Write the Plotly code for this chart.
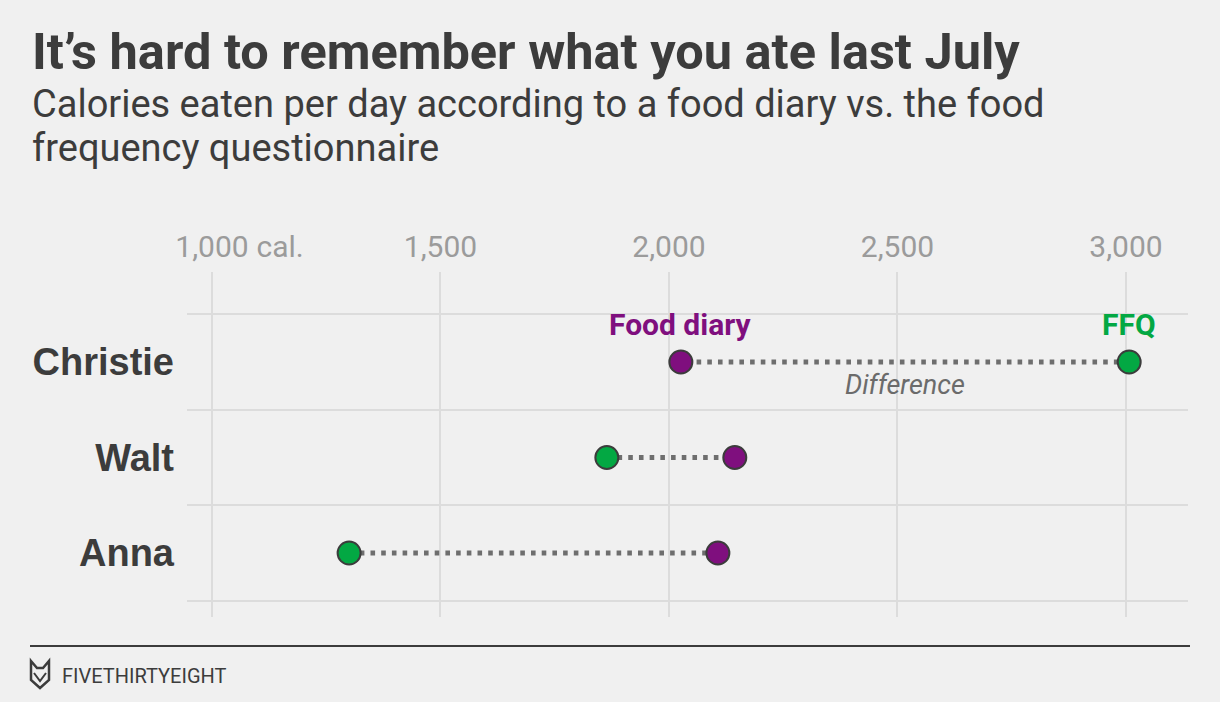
import plotly.graph_objects as go

# ---- data ----
names = ["Christie", "Walt", "Anna"]
food_diary = [2026, 2144, 2107]
ffq = [3007, 1864, 1300]
tick_vals = [1000, 1500, 2000, 2500, 3000]
tick_text = ["1,000", "1,500", "2,000", "2,500", "3,000"]

PURPLE = "#7f0f7e"
GREEN = "#03a843"
DARK = "#3c3c3c"
BG = "#f0f0f0"
GRID = "#dcdcdc"

W, H = 1220, 702
L, R, T, B = 187, 1188, 272, 617


def px(X):
    return (X - L) / (R - L)


def py(Y):
    return (B - Y) / (B - T)


rows = list(range(len(names)))

fig = go.Figure()

lx, ly = [], []
for i in rows:
    lx += [ffq[i], food_diary[i], None]
    ly += [i, i, None]
fig.add_trace(go.Scatter(
    x=lx, y=ly, mode="lines",
    line=dict(color="#6e6e6e", width=5, dash="4.6px,6.1px"),
    hoverinfo="skip", showlegend=False))

fig.add_trace(go.Scatter(
    x=food_diary, y=rows, mode="markers", name="Food diary",
    marker=dict(size=23, color=PURPLE, line=dict(color=DARK, width=2)),
    showlegend=False))
fig.add_trace(go.Scatter(
    x=ffq, y=rows, mode="markers", name="FFQ",
    marker=dict(size=23, color=GREEN, line=dict(color=DARK, width=2)),
    showlegend=False))

annotations = [
    dict(text="It’s hard to remember what you ate last July",
         xref="paper", yref="paper", x=px(30), y=py(51),
         xanchor="left", yanchor="middle", showarrow=False,
         font=dict(family="Roboto", size=50.5, color=DARK, weight="bold")),
    dict(text="Calories eaten per day according to a food diary vs. the food",
         xref="paper", yref="paper", x=px(30), y=py(104),
         xanchor="left", yanchor="middle", showarrow=False,
         font=dict(family="Roboto", size=38, color=DARK)),
    dict(text="frequency questionnaire",
         xref="paper", yref="paper", x=px(30), y=py(148),
         xanchor="left", yanchor="middle", showarrow=False,
         font=dict(family="Roboto", size=38, color=DARK)),
    dict(text=" cal.", xref="x", yref="paper", x=tick_vals[0], y=1,
         xanchor="left", yanchor="middle", xshift=35, yshift=26,
         showarrow=False,
         font=dict(family="Roboto", size=30, color="#9b9b9b")),
    dict(text="Food diary", xref="x", yref="y", x=food_diary[0], y=rows[0],
         xanchor="center", yanchor="middle", yshift=37, showarrow=False,
         font=dict(family="Roboto", size=30, color=PURPLE, weight="bold")),
    dict(text="FFQ", xref="x", yref="y", x=ffq[0], y=rows[0],
         xanchor="center", yanchor="middle", yshift=37, showarrow=False,
         font=dict(family="Roboto", size=30, color=GREEN, weight="bold")),
    dict(text="Difference", xref="x", yref="y",
         x=(food_diary[0] + ffq[0]) / 2, y=rows[0],
         xanchor="center", yanchor="middle", yshift=-23, showarrow=False,
         font=dict(family="Roboto", size=27, color="#6b6b6b", style="italic")),
    dict(text="FIVETHIRTYEIGHT", xref="paper", yref="paper",
         x=px(60), y=py(676), xanchor="left", yanchor="middle",
         showarrow=False,
         font=dict(family="Roboto", size=20, color=DARK)),
]

# footer rule
shapes = [
    dict(type="line", xref="paper", yref="paper",
         x0=px(30), x1=px(1190), y0=py(646), y1=py(646),
         line=dict(color=DARK, width=2)),
]
# logo outline (decorative)
logo_pts = [(31, 661), (37, 668), (43, 668), (49, 661), (49, 680),
            (40, 688), (31, 680)]
path = "M " + " L ".join(f"{px(a)},{py(b)}" for a, b in logo_pts) + " Z"
shapes.append(dict(type="path", xref="paper", yref="paper", path=path,
                   line=dict(color=DARK, width=2.5)))
inner = [(34, 673), (40, 681), (46, 673)]
path2 = "M " + " L ".join(f"{px(a)},{py(b)}" for a, b in inner)
shapes.append(dict(type="path", xref="paper", yref="paper", path=path2,
                   line=dict(color=DARK, width=2)))

fig.update_layout(
    width=W, height=H,
    paper_bgcolor=BG, plot_bgcolor=BG,
    margin=dict(l=L, r=W - R, t=T, b=H - B, autoexpand=False),
    annotations=annotations, shapes=shapes,
    showlegend=False,
    xaxis=dict(side="top", range=[945.3, 3135.7], tickvals=tick_vals,
               ticktext=tick_text, showgrid=True, gridcolor=GRID,
               gridwidth=2, zeroline=False, showline=False, ticks="",
               ticklabelstandoff=8,
               tickfont=dict(family="Roboto", size=30, color="#9b9b9b")),
    yaxis=dict(range=[2.67, -0.942], tickvals=rows, ticktext=names,
               showgrid=False, zeroline=False, showline=False, ticks="",
               ticklabelstandoff=12,
               tickfont=dict(family="Liberation Sans", size=38, color=DARK,
                             weight="bold"),
               minor=dict(tickvals=[-0.5, 0.5, 1.5, 2.5], showgrid=True,
                          gridcolor=GRID, gridwidth=2, ticks="")),
)

fig.write_html(
    "out.html",
    config={"displayModeBar": False},
    post_script="document.body.style.margin='0';"
                "document.body.style.overflow='hidden';"
                "document.body.style.background='#f0f0f0';",
)
